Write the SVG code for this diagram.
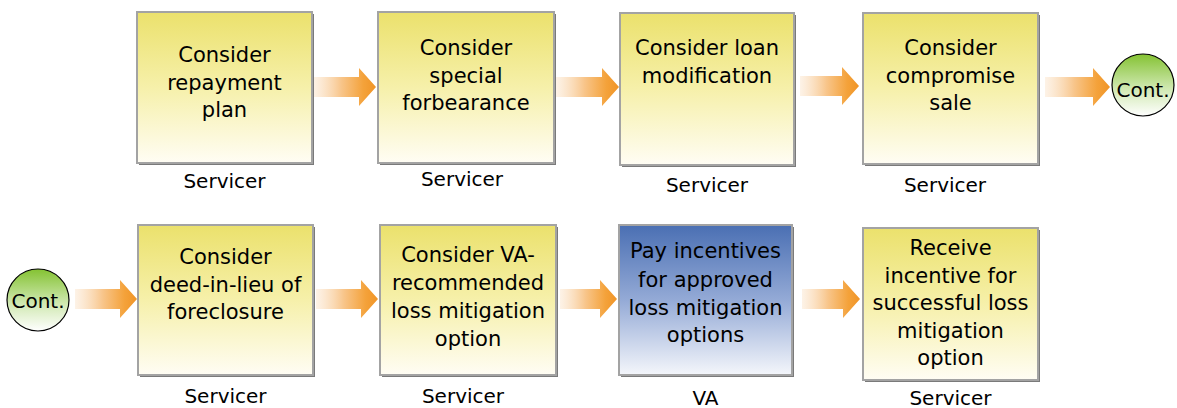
<svg xmlns="http://www.w3.org/2000/svg" width="1177" height="408" viewBox="0 0 1177 408">
<defs>
<linearGradient id="gy" x1="0" y1="0" x2="0" y2="1">
<stop offset="0" stop-color="#ebe16c"/>
<stop offset="0.5" stop-color="#f6f0aa"/>
<stop offset="1" stop-color="#fffdf4"/>
</linearGradient>
<linearGradient id="gb" x1="0" y1="0" x2="0" y2="1">
<stop offset="0" stop-color="#4a6fb3"/>
<stop offset="0.5" stop-color="#94aad6"/>
<stop offset="1" stop-color="#f4f6fb"/>
</linearGradient>
<linearGradient id="gg" x1="0" y1="0" x2="0" y2="1">
<stop offset="0" stop-color="#84c232"/>
<stop offset="0.55" stop-color="#cfe8b0"/>
<stop offset="1" stop-color="#ffffff"/>
</linearGradient>
<linearGradient id="ga" x1="0" y1="0" x2="1" y2="0">
<stop offset="0" stop-color="#fbe6cf" stop-opacity="0.5"/>
<stop offset="0.45" stop-color="#f8c58a"/>
<stop offset="0.8" stop-color="#f4a23a"/>
<stop offset="1" stop-color="#f09426"/>
</linearGradient>
<style>
.shadow{fill:#7a7a7a;}
.box{stroke:#a3a3a3;stroke-width:2;}
.y{fill:url(#gy);}
.b{fill:url(#gb);}
.t{font-family:"DejaVu Sans",Verdana,sans-serif;font-size:21px;fill:#000;text-anchor:middle;}
.lbl{font-family:"DejaVu Sans",Verdana,sans-serif;font-size:20px;fill:#000;text-anchor:middle;}
.arrow{fill:url(#ga);}
.cont{fill:url(#gg);stroke:#000;stroke-width:1.2;}
</style>
</defs>
<rect width="1177" height="408" fill="#ffffff"/>

<g id="connectors">
<path class="arrow" d="M313,77 L359,77 L359,68 L376,87 L359,106 L359,97 L313,97 Z"/>
<path class="arrow" d="M556,77 L602,77 L602,68 L619,87 L602,106 L602,97 L556,97 Z"/>
<path class="arrow" d="M800,76 L842,76 L842,67 L859,86 L842,105 L842,96 L800,96 Z"/>
<path class="arrow" d="M1045,77 L1093,77 L1093,68 L1110,87 L1093,106 L1093,97 L1045,97 Z"/>
<path class="arrow" d="M75,289 L120,289 L120,280 L137,299 L120,318 L120,309 L75,309 Z"/>
<path class="arrow" d="M316,289 L361,289 L361,280 L378,299 L361,318 L361,309 L316,309 Z"/>
<path class="arrow" d="M560,289 L600,289 L600,280 L617,299 L600,318 L600,309 L560,309 Z"/>
<path class="arrow" d="M802,289 L843,289 L843,280 L860,299 L843,318 L843,309 L802,309 Z"/>
</g>

<g id="n1">
<rect class="shadow" x="139" y="14" width="175" height="151"/>
<rect class="box y" x="137" y="12" width="175" height="151"/>
<text class="t" x="224.5" y="62">Consider</text>
<text class="t" x="224.5" y="89.5">repayment</text>
<text class="t" x="224.5" y="117">plan</text>
<text class="lbl" x="224.5" y="188">Servicer</text>
</g>

<g id="n2">
<rect class="shadow" x="380" y="14" width="176" height="151"/>
<rect class="box y" x="378" y="12" width="176" height="151"/>
<text class="t" x="466" y="55">Consider</text>
<text class="t" x="466" y="82.5">special</text>
<text class="t" x="466" y="110">forbearance</text>
<text class="lbl" x="462" y="186">Servicer</text>
</g>

<g id="n3">
<rect class="shadow" x="622" y="15" width="174" height="152"/>
<rect class="box y" x="620" y="13" width="174" height="152"/>
<text class="t" x="707" y="55">Consider loan</text>
<text class="t" x="707" y="82.5">modification</text>
<text class="lbl" x="707" y="192">Servicer</text>
</g>

<g id="n4">
<rect class="shadow" x="865" y="15" width="175" height="151"/>
<rect class="box y" x="863" y="13" width="175" height="151"/>
<text class="t" x="950.5" y="55">Consider</text>
<text class="t" x="950.5" y="82.5">compromise</text>
<text class="t" x="950.5" y="110">sale</text>
<text class="lbl" x="945" y="192">Servicer</text>
</g>

<g id="cont1">
<circle class="cont" cx="1143" cy="85" r="31"/>
<text class="lbl" x="1143" y="97">Cont.</text>
</g>

<g id="cont2">
<circle class="cont" cx="38" cy="300" r="31"/>
<text class="lbl" x="38" y="308">Cont.</text>
</g>

<g id="n5">
<rect class="shadow" x="140" y="227" width="175" height="150"/>
<rect class="box y" x="138" y="225" width="175" height="150"/>
<text class="t" x="225.5" y="264">Consider</text>
<text class="t" x="225.5" y="291.5">deed-in-lieu of</text>
<text class="t" x="225.5" y="319">foreclosure</text>
<text class="lbl" x="225.5" y="403">Servicer</text>
</g>

<g id="n6">
<rect class="shadow" x="382" y="227" width="176" height="150"/>
<rect class="box y" x="380" y="225" width="176" height="150"/>
<text class="t" x="468" y="262">Consider VA-</text>
<text class="t" x="468" y="290">recommended</text>
<text class="t" x="468" y="318">loss mitigation</text>
<text class="t" x="468" y="345.5">option</text>
<text class="lbl" x="463" y="403">Servicer</text>
</g>

<g id="n7">
<rect class="shadow" x="621" y="227" width="173" height="150"/>
<rect class="box b" x="619" y="225" width="173" height="150"/>
<text class="t" x="705.5" y="258">Pay incentives</text>
<text class="t" x="705.5" y="286.5">for approved</text>
<text class="t" x="705.5" y="314.5">loss mitigation</text>
<text class="t" x="705.5" y="342">options</text>
<text class="lbl" x="705.5" y="405">VA</text>
</g>

<g id="n8">
<rect class="shadow" x="865" y="230" width="175" height="152"/>
<rect class="box y" x="863" y="228" width="175" height="152"/>
<text class="t" x="950.5" y="255">Receive</text>
<text class="t" x="950.5" y="282.5">incentive for</text>
<text class="t" x="950.5" y="310">successful loss</text>
<text class="t" x="950.5" y="337.5">mitigation</text>
<text class="t" x="950.5" y="365">option</text>
<text class="lbl" x="950.5" y="405">Servicer</text>
</g>
</svg>
